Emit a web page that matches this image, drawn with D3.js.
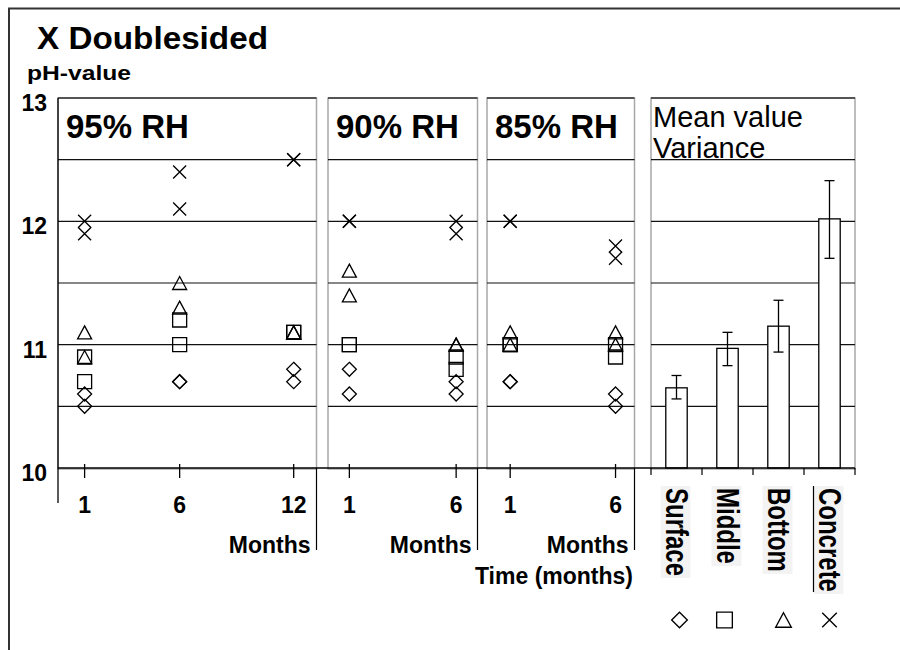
<!DOCTYPE html>
<html>
<head>
<meta charset="utf-8">
<script src="https://cdn.jsdelivr.net/npm/d3@7"></script>
<style>
  body { margin: 0; background: #fff; }
  svg { display: block; font-family: "Liberation Sans", Arial, sans-serif; }
</style>
</head>
<body>
<svg id="chart" width="900" height="650"></svg>
<script>
// pH readings, two specimens per time point, one row per panel
const panelLabels = ["95% RH", "90% RH", "85% RH"];
const panelMonths = [[1, 6, 12], [1, 6], [1, 6]];
const surfacePH = [
    [[10.6, 10.5], [10.7, 10.7], [10.8, 10.7]],
    [[10.8, 10.6], [10.7, 10.6]],
    [[10.7, 10.7], [10.6, 10.5]]
];
const middlePH = [
    [[10.9, 10.7], [11.2, 11.0], [11.1, 11.1]],
    [[11.0, 11.0], [10.9, 10.8]],
    [[11.0, 11.0], [11.0, 10.9]]
];
const bottomPH = [
    [[11.1, 10.9], [11.5, 11.3], [11.1, 11.1]],
    [[11.6, 11.4], [11.0, 11.0]],
    [[11.1, 11.0], [11.1, 11.0]]
];
const concretePH = [
    [[12.0, 11.9], [12.4, 12.1], [12.5, 12.5]],
    [[12.0, 12.0], [12.0, 11.9]],
    [[12.0, 12.0], [11.8, 11.7]]
];

// Mean value and variance panel
const categories = ["Surface", "Middle", "Bottom", "Concrete"];
const meanPH = [10.65, 10.97, 11.15, 12.02];
const lowPH = [10.56, 10.83, 10.94, 11.70];
const highPH = [10.75, 11.10, 11.36, 12.33];

const yTicks = [10, 11, 12, 13];
const gridValues = [10.5, 11, 11.5, 12, 12.5];

const svg = d3.select("#chart");

// vertical scale shared by all panels
const y = d3.scaleLinear().domain([10, 13]).range([468, 98]);

// layout of the three time panels
const panels = [
    { x0: 58, x1: 316.5, domain: [-0.4, 13.2] },
    { x0: 328, x1: 477.5, domain: [0, 7] },
    { x0: 487, x1: 634.5, domain: [-0.1, 6.9] }
];
const barPanel = { x0: 651, x1: 855 };

// marker paths
const shapes = {
    diamond: "M0,-7L7,0L0,7L-7,0Z",
    square: "M-7,-7H7V7H-7Z",
    triangle: "M0,-6.5L7,6.5H-7Z",
    cross: "M-6.5,-6.5L6.5,6.5M6.5,-6.5L-6.5,6.5"
};
const seriesList = [
    { values: surfacePH, shape: "diamond" },
    { values: middlePH, shape: "square" },
    { values: bottomPH, shape: "triangle" },
    { values: concretePH, shape: "cross" }
];

// outer frame (top and left only visible)
svg.append("path")
    .attr("d", "M9,650V8.5H900")
    .attr("fill", "none")
    .attr("stroke", "#333")
    .attr("stroke-width", 2);

// title and y label
svg.append("text")
    .attr("x", 37).attr("y", 49)
    .attr("font-size", 31).attr("font-weight", "bold")
    .attr("textLength", 231).attr("lengthAdjust", "spacingAndGlyphs")
    .text("X Doublesided");

svg.append("text")
    .attr("x", 27).attr("y", 80)
    .attr("font-size", 21).attr("font-weight", "bold")
    .attr("textLength", 104).attr("lengthAdjust", "spacingAndGlyphs")
    .text("pH-value");

// y tick labels
svg.selectAll(".ylab")
    .data(yTicks)
    .join("text")
    .attr("class", "ylab")
    .attr("x", 47)
    .attr("y", d => y(d) + 13)
    .attr("text-anchor", "end")
    .attr("font-size", 23).attr("font-weight", "bold")
    .text(d => d);

// panel backgrounds and grid
const allBoxes = panels.concat([barPanel]);
allBoxes.forEach(p => {
    svg.append("rect")
        .attr("x", p.x0).attr("y", y(13))
        .attr("width", p.x1 - p.x0).attr("height", y(10) - y(13) + 1)
        .attr("fill", "#fff")
        .attr("stroke", "#a8a8a8").attr("stroke-width", 1.5);

    svg.append("g").selectAll("line")
        .data(gridValues)
        .join("line")
        .attr("x1", p.x0).attr("x2", p.x1)
        .attr("y1", d => y(d)).attr("y2", d => y(d))
        .attr("stroke", "#111").attr("stroke-width", 1.2);

    svg.append("line")
        .attr("x1", p.x0).attr("x2", p.x1)
        .attr("y1", y(13)).attr("y2", y(13))
        .attr("stroke", "#333").attr("stroke-width", 1.5);
});

// time panels: headers, markers, month axis
panels.forEach((p, i) => {
    const x = d3.scaleLinear().domain(p.domain).range([p.x0, p.x1]);
    const months = panelMonths[i];

    svg.append("text")
        .attr("x", p.x0 + 8).attr("y", 138)
        .attr("font-size", 33).attr("font-weight", "bold")
        .text(panelLabels[i]);

    seriesList.forEach(s => {
        const pts = [];
        s.values[i].forEach((pair, j) => {
            pair.forEach(v => pts.push({ m: months[j], v: v }));
        });
        svg.append("g").selectAll("path")
            .data(pts)
            .join("path")
            .attr("transform", d => `translate(${x(d.m)},${y(d.v)})`)
            .attr("d", shapes[s.shape])
            .attr("fill", "none")
            .attr("stroke", "#000")
            .attr("stroke-width", 1.3);
    });

    // month ticks
    svg.append("g").selectAll("line")
        .data(months)
        .join("line")
        .attr("x1", d => x(d)).attr("x2", d => x(d))
        .attr("y1", y(10) - 4).attr("y2", y(10) + 10)
        .attr("stroke", "#000").attr("stroke-width", 1.3);

    svg.append("g").selectAll("text")
        .data(months)
        .join("text")
        .attr("x", d => x(d)).attr("y", 513)
        .attr("text-anchor", "middle")
        .attr("font-size", 23).attr("font-weight", "bold")
        .text(d => d);

    // divider and "Months" label
    svg.append("line")
        .attr("x1", p.x1).attr("x2", p.x1)
        .attr("y1", y(10)).attr("y2", 550)
        .attr("stroke", "#000").attr("stroke-width", 1.2);

    svg.append("text")
        .attr("x", p.x1 - 6).attr("y", 553)
        .attr("text-anchor", "end")
        .attr("font-size", 23).attr("font-weight", "bold")
        .text("Months");
});

svg.append("text")
    .attr("x", 633).attr("y", 584)
    .attr("text-anchor", "end")
    .attr("font-size", 23).attr("font-weight", "bold")
    .text("Time (months)");

// mean value / variance panel
const xb = d3.scaleBand()
    .domain(categories)
    .range([barPanel.x0, barPanel.x1])
    .paddingInner(0.58)
    .paddingOuter(0.29);
const barData = categories.map((c, i) => ({ c: c, mean: meanPH[i], lo: lowPH[i], hi: highPH[i] }));

svg.append("text")
    .attr("x", barPanel.x0 + 2).attr("y", 127)
    .attr("font-size", 29)
    .text("Mean value");
svg.append("text")
    .attr("x", barPanel.x0 + 2).attr("y", 158)
    .attr("font-size", 29)
    .text("Variance");

svg.append("g").selectAll("rect")
    .data(barData)
    .join("rect")
    .attr("x", d => xb(d.c))
    .attr("y", d => y(d.mean))
    .attr("width", xb.bandwidth())
    .attr("height", d => y(10) - y(d.mean))
    .attr("fill", "#fff")
    .attr("stroke", "#000").attr("stroke-width", 1.3);

const err = svg.append("g").selectAll("g")
    .data(barData)
    .join("g")
    .attr("transform", d => `translate(${xb(d.c) + xb.bandwidth() / 2},0)`)
    .attr("stroke", "#000").attr("stroke-width", 1.3);
err.append("line").attr("y1", d => y(d.lo)).attr("y2", d => y(d.hi));
err.append("line").attr("x1", -5).attr("x2", 5).attr("y1", d => y(d.lo)).attr("y2", d => y(d.lo));
err.append("line").attr("x1", -5).attr("x2", 5).attr("y1", d => y(d.hi)).attr("y2", d => y(d.hi));

// baseline axis across all panels
svg.append("line")
    .attr("x1", panels[0].x0).attr("x2", barPanel.x1)
    .attr("y1", y(10)).attr("y2", y(10))
    .attr("stroke", "#000").attr("stroke-width", 1.5);

// y axis line
svg.append("line")
    .attr("x1", panels[0].x0).attr("x2", panels[0].x0)
    .attr("y1", y(13)).attr("y2", 503)
    .attr("stroke", "#000").attr("stroke-width", 1.3);

// category boundary ticks
const bounds = d3.range(categories.length + 1).map(i => barPanel.x0 + i * xb.step());
svg.append("g").selectAll("line")
    .data(bounds)
    .join("line")
    .attr("x1", d => d).attr("x2", d => d)
    .attr("y1", y(10)).attr("y2", y(10) + 7)
    .attr("stroke", "#000").attr("stroke-width", 1.2);

// rotated category labels with light background
const catG = svg.append("g").selectAll("g")
    .data(categories)
    .join("g")
    .attr("transform", d => `translate(${xb(d) + xb.bandwidth() / 2 - 11},488)`);
catG.append("text")
    .attr("transform", "rotate(90) scale(1,1.28)")
    .attr("font-size", 24)
    .attr("font-weight", "bold")
    .text(d => d);
catG.each(function() {
    const g = d3.select(this);
    const len = g.select("text").node().getComputedTextLength();
    g.insert("rect", "text")
        .attr("x", -5).attr("y", -2)
        .attr("width", 30).attr("height", len + 4)
        .attr("fill", "#f3f3f3");
});
// stray divider before the last label
const lastX = xb(categories[3]) + xb.bandwidth() / 2 - 16;
svg.append("line")
    .attr("x1", lastX).attr("x2", lastX)
    .attr("y1", 486).attr("y2", 592)
    .attr("stroke", "#000").attr("stroke-width", 1.2);

// legend symbols under category labels
const legendShapes = ["diamond", "square", "triangle", "cross"];
svg.append("g").selectAll("path")
    .data(categories)
    .join("path")
    .attr("transform", (d, i) => `translate(${xb(d) + xb.bandwidth() / 2 + [3, -3, 5, 0][i]},620) scale(1.12)`)
    .attr("d", (d, i) => shapes[legendShapes[i]])
    .attr("fill", "none")
    .attr("stroke", "#000")
    .attr("stroke-width", 1.2);
</script>
</body>
</html>
